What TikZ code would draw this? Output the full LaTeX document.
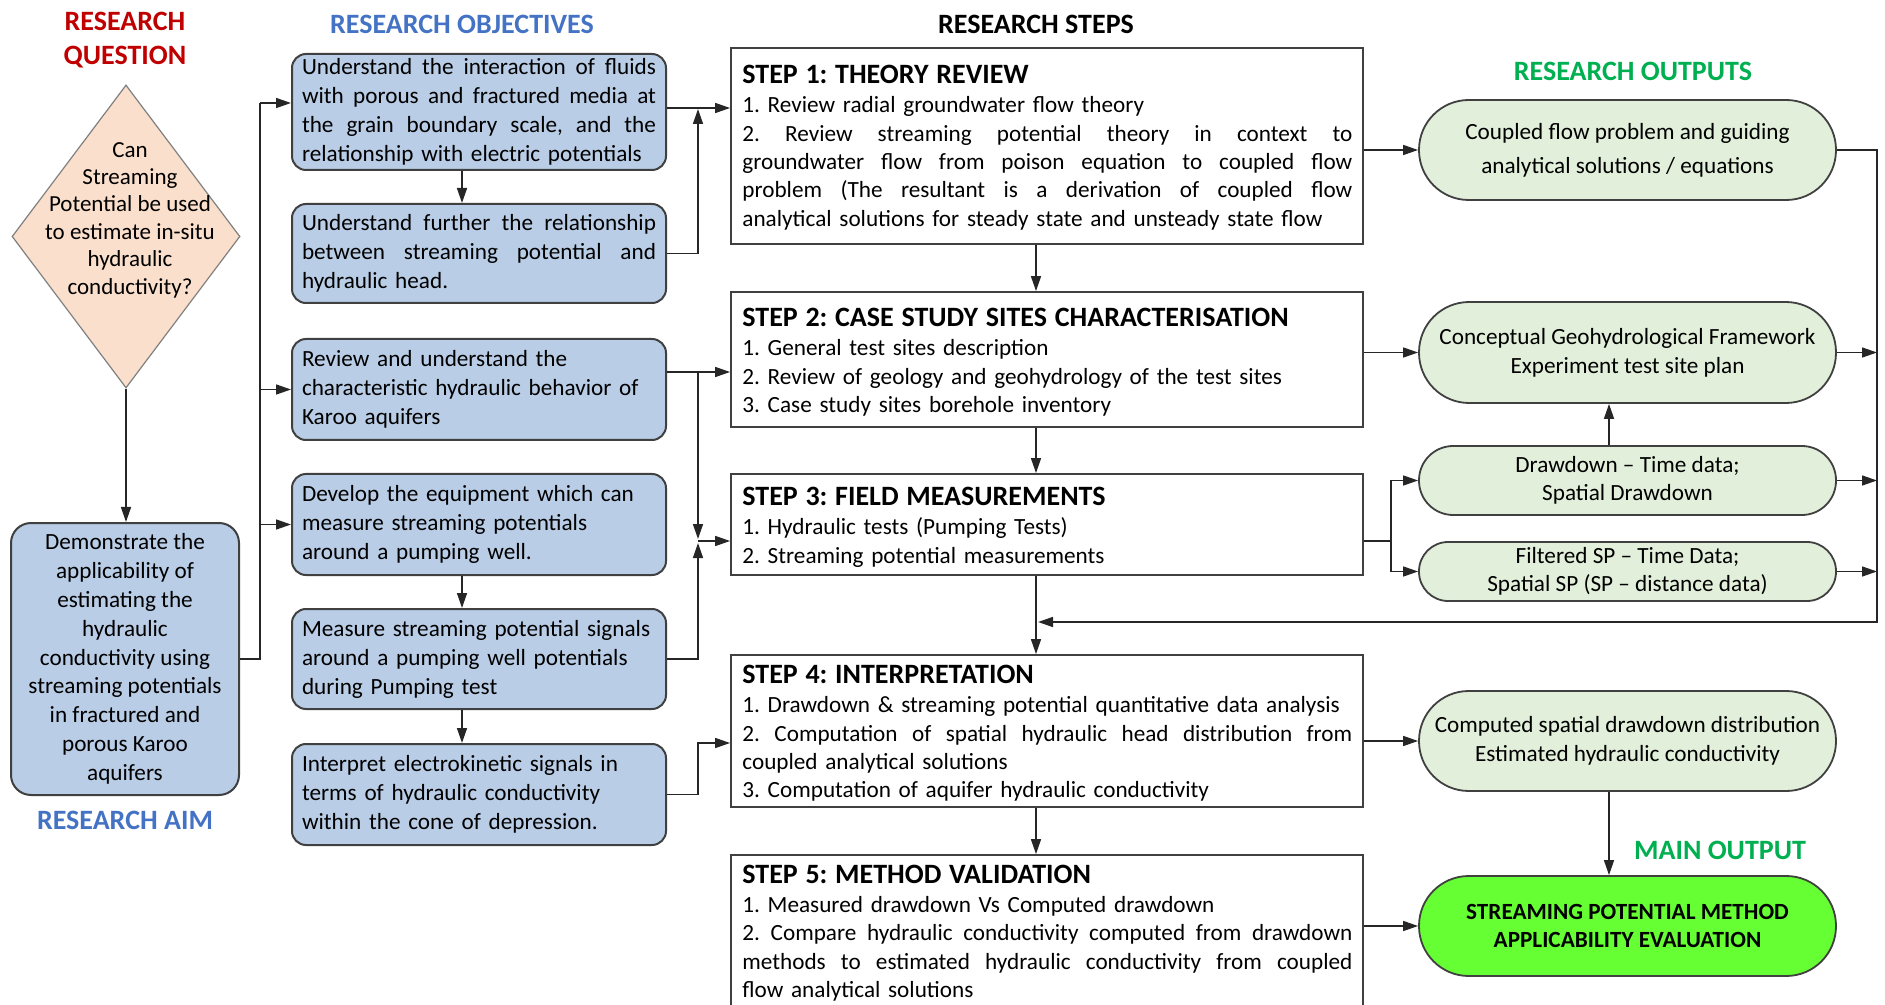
\documentclass[tikz,border=0pt]{standalone}
\usepackage{fontspec}
\setmainfont{Carlito}
\usetikzlibrary{arrows.meta,shapes.geometric,calc}
\definecolor{qred}{HTML}{C00000}
\definecolor{oblue}{HTML}{4472C4}
\definecolor{ogreen}{HTML}{00B050}
\definecolor{objfill}{HTML}{B9CDE6}
\definecolor{peach}{HTML}{FAE0CC}
\definecolor{outfill}{HTML}{E2EFDA}
\definecolor{mainfill}{HTML}{66FF33}
\definecolor{edgecol}{HTML}{404040}
\newlength\ow \setlength\ow{177pt}
\newlength\sw \setlength\sw{305pt}
\newcommand\jl[2]{\makebox[#1][s]{\spaceskip=\fontdimen2\font plus 1fil\relax #2}}
\newcommand\lft[1]{\mbox{#1}}
\newcommand\bodyf{\fontsize{11.6pt}{14.5pt}\selectfont}
\newcommand\stepf{\fontsize{11.6pt}{14.2pt}\selectfont}
\newcommand\headf{\fontsize{14pt}{14.2pt}\selectfont\bfseries}
\newcommand\titlef{\fontsize{14pt}{17pt}\selectfont\bfseries}
\frenchspacing
\begin{document}
\frenchspacing
\begin{tikzpicture}[x=0.5pt,y=-0.5pt,
  objbox/.style={draw=edgecol, line width=1pt, fill=objfill, rounded corners=7pt,
    text width=\ow, inner xsep=5pt, inner ysep=0pt, align=left, font=\bodyf, minimum height=#1},
  stepbox/.style={draw=edgecol, line width=0.9pt, fill=white, minimum width=316pt, minimum height=#1, inner sep=0pt},
  steptext/.style={anchor=north west, inner sep=0pt, text width=\sw, align=left, font=\stepf},
  outbox/.style n args={2}{draw=edgecol, line width=0.9pt, fill=outfill, rounded corners=#2,
    minimum width=208.5pt, minimum height=#1, inner sep=0pt, align=center, font=\bodyf},
  titletext/.style={font=\titlef, inner sep=0pt, align=center},
  arr/.style={draw=black!85, line width=0.75pt, -{Triangle[length=7.5pt,width=5pt]}},
  ln/.style={draw=black!85, line width=0.75pt}]
\useasboundingbox (0,0) rectangle (1885,1005);

% titles
\node[titletext, text=qred] (tq) at (125,40) {RESEARCH\\QUESTION};
\node[titletext, text=oblue] (tobj) at (462,24) {RESEARCH OBJECTIVES};
\node[titletext] (tsteps) at (1036,24) {RESEARCH STEPS};
\node[titletext, text=ogreen] (touts) at (1633,71) {RESEARCH OUTPUTS};
\node[titletext, text=ogreen] (tmain) at (1720,850) {MAIN OUTPUT};
\node[titletext, text=oblue] (taim) at (125,820) {RESEARCH AIM};

% question and aim
\node[diamond, draw=black!50, line width=0.6pt, fill=peach, minimum width=114pt, minimum height=151.5pt, inner sep=0pt] (q) at (126,236.5) {};
\node[align=center, font=\fontsize{11.5pt}{13.7pt}\selectfont, inner sep=0pt] (qt) at (130,220)
  {Can\\Streaming\\Potential be used\\to estimate in-situ\\hydraulic\\conductivity?};
\node[draw=edgecol, line width=1pt, fill=objfill, rounded corners=10pt, minimum width=114pt, minimum height=136pt,
  inner sep=2pt, align=center, font=\fontsize{11.6pt}{14.4pt}\selectfont] (aim) at (125,659)
  {Demonstrate the\\applicability of\\estimating the\\hydraulic\\conductivity using\\streaming potentials\\in fractured and\\porous Karoo\\aquifers};

% objectives
\node[objbox=58pt] (o1) at (479,112) {\jl{\ow}{Understand the interaction of fluids}\\\jl{\ow}{with porous and fractured media at}\\\jl{\ow}{the grain boundary scale, and the}\\\lft{relationship with electric potentials}};
\node[objbox=49.5pt] (o2) at (479,253.5) {\jl{\ow}{Understand further the relationship}\\\jl{\ow}{between streaming potential and}\\\lft{hydraulic head.}};
\node[objbox=50.5pt] (o3) at (479,389.5) {\lft{Review and understand the}\\\lft{characteristic hydraulic behavior of}\\\lft{Karoo aquifers}};
\node[objbox=50.5pt] (o4) at (479,524.5) {\lft{Develop the equipment which can}\\\lft{measure streaming potentials}\\\lft{around a pumping well.}};
\node[objbox=50pt] (o5) at (479,659) {\lft{Measure streaming potential signals}\\\lft{around a pumping well potentials}\\\lft{during Pumping test}};
\node[objbox=50.5pt] (o6) at (479,794.5) {\lft{Interpret electrokinetic signals in}\\\lft{terms of hydraulic conductivity}\\\lft{within the cone of depression.}};

% steps
\node[stepbox=98pt] (s1) at (1047,146) {};
\node[stepbox=67.5pt] (s2) at (1047,359.5) {};
\node[stepbox=50.5pt] (s3) at (1047,524.5) {};
\node[stepbox=76pt] (s4) at (1047,731) {};
\node[stepbox=78pt] (s5) at (1047,933) {};
\node[steptext] (s1t) at (742,65) {\lft{\headf STEP 1: THEORY REVIEW}\\[0.3pt]
\lft{1. Review radial groundwater flow theory}\\
\jl{\sw}{2. Review streaming potential theory in context to}\\
\jl{\sw}{groundwater flow from poison equation to coupled flow}\\
\jl{\sw}{problem (The resultant is a derivation of coupled flow}\\
\lft{analytical solutions for steady state and unsteady state flow}};
\node[steptext] (s2t) at (742,308) {\lft{\headf STEP 2: CASE STUDY SITES CHARACTERISATION}\\[0.3pt]
\lft{1. General test sites description}\\
\lft{2. Review of geology and geohydrology of the test sites}\\
\lft{3. Case study sites borehole inventory}};
\node[steptext] (s3t) at (742,487) {\lft{\headf STEP 3: FIELD MEASUREMENTS}\\[0.3pt]
\lft{1. Hydraulic tests (Pumping Tests)}\\
\lft{2. Streaming potential measurements}};
\node[steptext] (s4t) at (742,665) {\lft{\headf STEP 4: INTERPRETATION}\\[0.3pt]
\lft{1. Drawdown \& streaming potential quantitative data analysis}\\
\jl{\sw}{2. Computation of spatial hydraulic head distribution from}\\
\lft{coupled analytical solutions}\\
\lft{3. Computation of aquifer hydraulic conductivity}};
\node[steptext] (s5t) at (742,864.5) {\lft{\headf STEP 5: METHOD VALIDATION}\\[0.3pt]
\lft{1. Measured drawdown Vs Computed drawdown}\\
\jl{\sw}{2. Compare hydraulic conductivity computed from drawdown}\\
\jl{\sw}{methods to estimated hydraulic conductivity from coupled}\\
\lft{flow analytical solutions}};

% outputs
\node[outbox={50pt}{24.9pt}, font=\fontsize{11.6pt}{17pt}\selectfont] (u1) at (1627.5,150) {Coupled flow problem and guiding\\analytical solutions / equations};
\node[outbox={50.5pt}{25.1pt}] (u2) at (1627.5,352.5) {Conceptual Geohydrological Framework\\Experiment test site plan};
\node[outbox={34.5pt}{17.1pt}, font=\fontsize{11.6pt}{14pt}\selectfont] (u3) at (1627.5,480.5) {Drawdown -- Time data;\\Spatial Drawdown};
\node[outbox={29.5pt}{14.6pt}, font=\fontsize{11.6pt}{14pt}\selectfont] (u4) at (1627.5,571.5) {Filtered SP -- Time Data;\\Spatial SP (SP -- distance data)};
\node[outbox={50pt}{24.9pt}] (u5) at (1627.5,741) {Computed spatial drawdown distribution\\Estimated hydraulic conductivity};
\node[outbox={50pt}{24.9pt}, fill=mainfill, font=\fontsize{11.6pt}{14pt}\selectfont\bfseries] (u6) at (1627.5,926) {STREAMING POTENTIAL METHOD\\APPLICABILITY EVALUATION};

% helper coordinates
\coordinate (busL) at (260,103);
\coordinate (busR) at (698,108);
\coordinate (jA) at (698,372);
\coordinate (jB) at (698,541);
\coordinate (jC) at (698,743);
\coordinate (sc) at (1036,0);
\coordinate (jD) at (1391,541);
\coordinate (oc) at (1609,0);
\coordinate (fb) at (1877,622);
\coordinate (fbL) at (1038,622);

% left connectors
\draw[arr] (q.south) -- (q.south |- aim.north);
\draw[ln] (aim.east) -| (busL);
\draw[arr] (busL) -- (busL -| o1.west);
\draw[arr] (busL |- o3.west) -- (o3.west);
\draw[arr] (busL |- o4.west) -- (o4.west);
\draw[arr] ([xshift=-8.5pt]o1.south) -- ([xshift=-8.5pt]o2.north);
\draw[arr] ([xshift=-8.5pt]o4.south) -- ([xshift=-8.5pt]o5.north);
\draw[arr] ([xshift=-8.5pt]o5.south) -- ([xshift=-8.5pt]o6.north);

% objectives to steps
\draw[arr] (o1.east |- busR) -- (busR -| s1.west);
\draw[arr, shorten >=0.5pt] (o2.east) -| (busR);
\draw[arr] (o3.east |- jA) -- (jA -| s2.west);
\draw[arr, shorten >=1pt] (jA) -- (jB);
\draw[arr] (jB) -- (jB -| s3.west);
\draw[arr, shorten >=1pt] (o5.east) -| (jB);
\draw[arr] (o6.east) -| (jC) -- (jC -| s4.west);

% steps chain
\draw[arr] (s1.south -| sc) -- (s2.north -| sc);
\draw[arr] (s2.south -| sc) -- (s3.north -| sc);
\draw[arr] (s3.south -| sc) -- (s4.north -| sc);
\draw[arr] (s4.south -| sc) -- (s5.north -| sc);

% steps to outputs
\draw[arr] (s1.east |- u1.west) -- (u1.west);
\draw[arr] (s2.east |- u2.west) -- (u2.west);
\draw[ln] (s3.east |- jD) -- (jD);
\draw[arr] (jD) |- (u3.west);
\draw[arr] (jD) |- (u4.west);
\draw[arr] (s4.east |- u5.west) -- (u5.west);
\draw[arr] (s5.east |- u6.west) -- (u6.west);
\draw[arr] (u3.north -| oc) -- (u2.south -| oc);
\draw[arr] (u5.south -| oc) -- (u6.north -| oc);

% feedback bus
\draw[arr] (u1.east) -| (fb) -- (fbL);
\draw[arr] (u2.east) -- (u2.east -| fb);
\draw[arr] (u3.east) -- (u3.east -| fb);
\draw[arr] (u4.east) -- (u4.east -| fb);
\end{tikzpicture}
\end{document}
